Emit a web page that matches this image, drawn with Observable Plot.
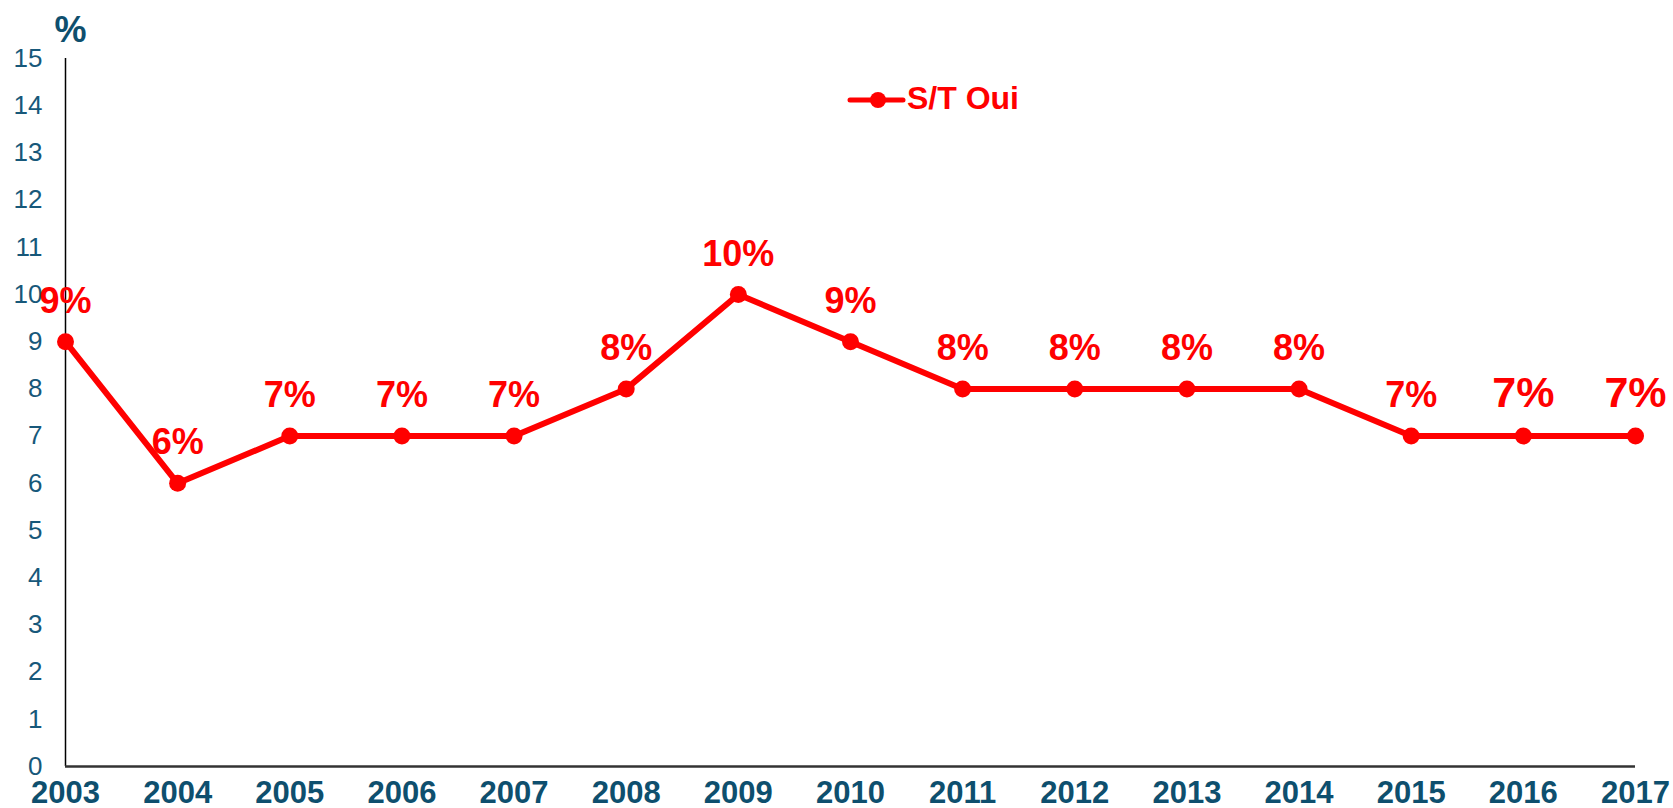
<!DOCTYPE html>
<html>
<head>
<meta charset="utf-8">
<script src="https://cdn.jsdelivr.net/npm/d3@7"></script>
<script src="https://cdn.jsdelivr.net/npm/@observablehq/plot@0.6"></script>
<style>
  html, body { margin: 0; padding: 0; background: #fff; }
  #wrap { position: relative; width: 1673px; height: 808px; font-family: "Liberation Sans", Arial, sans-serif; }
  #legend { position: absolute; left: 845px; top: 74px; }
</style>
</head>
<body>
<div id="wrap">
  <div id="chart"></div>
  <svg id="legend" width="220" height="50"></svg>
</div>
<script>
// Data
const years = [2003, 2004, 2005, 2006, 2007, 2008, 2009, 2010, 2011, 2012, 2013, 2014, 2015, 2016, 2017];
const values = [9, 6, 7, 7, 7, 8, 10, 9, 8, 8, 8, 8, 7, 7, 7];
const seriesName = "S/T Oui";
const yTicks = [0, 1, 2, 3, 4, 5, 6, 7, 8, 9, 10, 11, 12, 13, 14, 15];
const yUnit = "%";
const bigLabelYears = [2016, 2017];

const data = years.map((year, i) => ({year, value: values[i]}));

const RED = "#ff0000";
const TEAL = "#17587a";
const TEAL_DARK = "#0e4f6e";
const FONT = "Liberation Sans, Arial, sans-serif";

const chart = Plot.plot({
  width: 1673,
  height: 808,
  marginLeft: 65,
  marginRight: 38,
  marginTop: 58,
  marginBottom: 42,
  style: {fontFamily: FONT, background: "#fff", overflow: "visible"},
  x: {domain: [years[0], years[years.length - 1]]},
  y: {domain: [0, 15]},
  marks: [
    Plot.axisY({ticks: yTicks, tickSize: 0, tickPadding: 23, fontSize: 26, fill: TEAL, label: null, tickFormat: d => String(d)}),
    Plot.axisX({ticks: years, tickSize: 0, tickPadding: 14, fontSize: 31, fontWeight: "bold", fill: TEAL_DARK, label: null, tickFormat: d => String(d)}),
    Plot.text([yUnit], {frameAnchor: "top-left", text: d => d, dx: 5, dy: -17, lineAnchor: "bottom", textAnchor: "middle", fontSize: 36, fontWeight: "bold", fill: TEAL_DARK}),
    Plot.ruleX([years[0]], {stroke: "#000", strokeWidth: 1.5}),
    Plot.ruleY([0], {stroke: "#333", strokeWidth: 2.5}),
    Plot.line(data, {x: "year", y: "value", stroke: RED, strokeWidth: 6}),
    Plot.dot(data, {x: "year", y: "value", r: 8.5, fill: RED}),
    Plot.text(data.filter(d => !bigLabelYears.includes(d.year)), {x: "year", y: "value", text: d => d.value + "%", dy: -29, lineAnchor: "bottom", fontSize: 36, fontWeight: "bold", fill: RED}),
    Plot.text(data.filter(d => bigLabelYears.includes(d.year)), {x: "year", y: "value", text: d => d.value + "%", dy: -29, lineAnchor: "bottom", fontSize: 43, fontWeight: "bold", fill: RED})
  ]
});
document.getElementById("chart").appendChild(chart);

// Legend
const lg = d3.select("#legend");
lg.append("line").attr("x1", 5).attr("x2", 58).attr("y1", 26).attr("y2", 26)
  .attr("stroke", RED).attr("stroke-width", 5).attr("stroke-linecap", "round");
lg.append("circle").attr("cx", 33).attr("cy", 26).attr("r", 8).attr("fill", RED);
lg.append("text").attr("x", 62).attr("y", 35).attr("font-family", FONT)
  .attr("font-size", 32).attr("font-weight", "bold").attr("fill", RED).text(seriesName);
</script>
</body>
</html>
